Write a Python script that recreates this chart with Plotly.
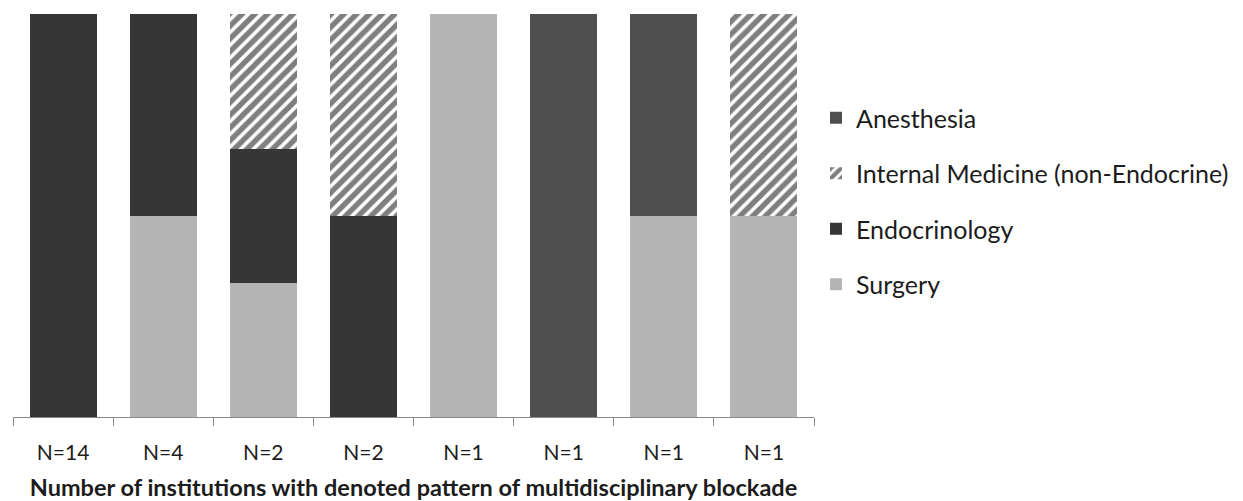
import plotly.graph_objects as go

patterns = ["P1", "P2", "P3", "P4", "P5", "P6", "P7", "P8"]
tick_labels = ["N=14", "N=4", "N=2", "N=2", "N=1", "N=1", "N=1", "N=1"]

surgery = [0, 50, 33.3, 0, 100, 0, 50, 50]
endocrinology = [100, 50, 33.3, 50, 0, 0, 0, 0]
internal_medicine = [0, 0, 33.4, 50, 0, 0, 0, 50]
anesthesia = [0, 0, 0, 0, 0, 100, 50, 0]

xpos = list(range(len(patterns)))

FONT = "Lato"
TXT = "#1c1c1c"

fig = go.Figure()
fig.add_bar(x=xpos, y=surgery, name="Surgery", marker=dict(color="#b4b4b4", line=dict(width=0)),
            legendgroup="s", legendrank=4)
fig.add_bar(x=xpos, y=endocrinology, name="Endocrinology", marker=dict(color="#363636", line=dict(width=0)),
            legendgroup="e", legendrank=3)
fig.add_bar(x=xpos, y=internal_medicine, name="Internal Medicine (non-Endocrine)",
            marker=dict(color="white", line=dict(width=0),
                        pattern=dict(shape="/", fgcolor="#000000", bgcolor="white", size=9, solidity=0.6)),
            legendgroup="i", legendrank=2)
fig.add_bar(x=xpos, y=anesthesia, name="Anesthesia", marker=dict(color="#4f4f4f", line=dict(width=0)),
            legendgroup="a", legendrank=1)

fig.update_layout(
    width=1235, height=493,
    barmode="stack", bargap=0.33,
    plot_bgcolor="white", paper_bgcolor="white",
    margin=dict(l=5, r=429, t=6, b=84),
    font=dict(family=FONT, color=TXT),
    legend=dict(
        traceorder="grouped", x=1.0025, xanchor="left", y=0.799, yanchor="top",
        font=dict(size=25, family=FONT, color=TXT), tracegroupgap=20,
        itemwidth=30, bgcolor="rgba(0,0,0,0)",
    ),
)
fig.update_xaxes(
    range=[-0.5, len(patterns) - 0.5],
    tickmode="array", tickvals=xpos, ticktext=tick_labels, ticks="",
    tickfont=dict(size=21, family=FONT, color=TXT), ticklabelstandoff=17,
    showline=True, linecolor="#8a8a8a", linewidth=1, showgrid=False, zeroline=False,
    automargin=False,
    minor=dict(tickmode="array", tickvals=[p - 0.5 for p in range(len(patterns) + 1)],
               ticks="outside", ticklen=8, tickcolor="#8a8a8a", showgrid=False),
    title=dict(text="<b>Number of institutions with denoted pattern of multidisciplinary blockade</b>",
               font=dict(size=23.5, family=FONT, color=TXT), standoff=16),
)
fig.update_yaxes(range=[0, 100], visible=False, showgrid=False)

fig.write_html("out.html")
